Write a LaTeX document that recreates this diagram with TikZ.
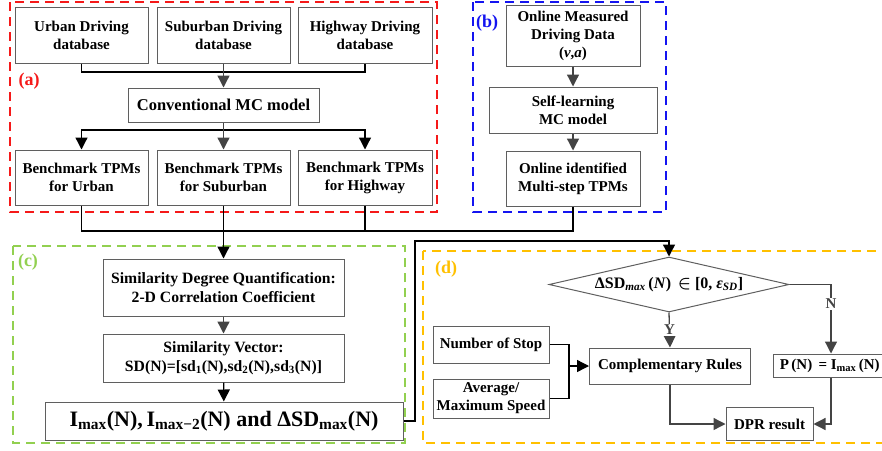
\documentclass[tikz,border=0pt]{standalone}
\usepackage{amsmath}
\usepackage{fontspec}
\setmainfont{Liberation Serif}
\usepackage{tikz}
\usetikzlibrary{arrows.meta,positioning,calc,shapes.geometric}
\definecolor{boxgray}{RGB}{95,95,95}
\definecolor{arrgray}{RGB}{68,68,68}
\definecolor{grpred}{RGB}{245,25,25}
\definecolor{grpblue}{RGB}{20,20,240}
\definecolor{grpgreen}{RGB}{146,208,80}
\definecolor{grporange}{RGB}{255,192,0}
\tikzstyle{block}=[draw=boxgray,line width=1pt,fill=white,align=center,inner sep=2pt,font=\fontsize{15}{18}\selectfont\bfseries]
\tikzstyle{group}=[line width=2pt,dash pattern=on 9pt off 6pt]
\tikzstyle{tag}=[inner sep=0pt,font=\fontsize{18}{20}\selectfont\bfseries]
\tikzstyle{arr}=[-{Triangle[length=12pt,width=12pt]},line width=1.3pt]
\tikzstyle{lbl}=[fill=white,inner sep=1pt,font=\fontsize{15}{18}\selectfont\bfseries]
\newcommand{\pp}[1]{\,(#1)\,}

\begin{document}
\begin{tikzpicture}[x=1pt,y=-1pt]
\useasboundingbox (0,0) rectangle (882,450);
\clip (0,0) rectangle (882,450);

\draw[group,grpred] (10,2) rectangle (437,212);
\draw[group,grpblue] (473,2) rectangle (666,212);
\draw[group,grpgreen] (13,246) rectangle (405,443);
\draw[group,grporange] (423,251) rectangle (900,443);

\node[tag,text=grpred] (taga) at (29,81) {(a)};
\node[tag,text=grpblue] (tagb) at (487,23) {(b)};
\node[tag,text=grpgreen] (tagc) at (28,262) {(c)};
\node[tag,text=grporange] (tagd) at (446,269) {(d)};

\node[block,minimum width=133pt,minimum height=56pt] (urbdb) at (81.5,35) {Urban Driving\\database};
\node[block,minimum width=133pt,minimum height=56pt] (subdb) at (223.5,35) {Suburban Driving\\database};
\node[block,minimum width=134pt,minimum height=56pt] (hwydb) at (365,35) {Highway Driving\\database};
\node[block,minimum width=191pt,minimum height=34pt,font=\fontsize{16.5}{18}\selectfont\bfseries] (convmc) at (223.5,105) {Conventional MC model};
\node[block,minimum width=133pt,minimum height=55pt] (bmurb) at (81.5,177.5) {Benchmark TPMs\\for Urban};
\node[block,minimum width=133pt,minimum height=55pt] (bmsub) at (223.5,177.5) {Benchmark TPMs\\for Suburban};
\node[block,minimum width=134pt,minimum height=55pt] (bmhwy) at (365,177.5) {Benchmark TPMs\\for Highway};

\node[block,minimum width=134pt,minimum height=61pt] (omd) at (573,35.5) {Online Measured\\Driving Data\\(\textit{v},\textit{a})};
\node[block,minimum width=168pt,minimum height=46pt] (slmc) at (573,110) {Self-learning\\MC model};
\node[block,minimum width=134pt,minimum height=55pt] (oid) at (573,178.5) {Online identified\\Multi-step TPMs};

\node[block,minimum width=241pt,minimum height=57pt,font=\fontsize{15.7}{18.5}\selectfont\bfseries] (sdq) at (223.5,287.5) {Similarity Degree Quantification:\\2-D Correlation Coefficient};
\node[block,minimum width=241pt,minimum height=48pt,font=\fontsize{15.7}{18.5}\selectfont\bfseries] (sv) at (223.5,358) {Similarity Vector:\\SD(N)=[sd\textsubscript{1}(N),sd\textsubscript{2}(N),sd\textsubscript{3}(N)]};
\node[block,minimum width=358pt,minimum height=38pt,font=\fontsize{22}{24}\selectfont\bfseries] (imax) at (224,421) {I\textsubscript{max}(N),\,I\textsubscript{max−2}(N) and ΔSD\textsubscript{max}(N)};

\node[diamond,draw=boxgray,line width=1pt,fill=white,aspect=4.36,inner sep=0pt,minimum width=240pt,minimum height=55pt,font=\fontsize{16}{18}\selectfont\bfseries] (cond) at (669,284.5) {ΔSD\textsubscript{\textit{max}}\pp{\textit{N}} $\boldsymbol{\in}$ [0, \textit{ε}\textsubscript{\textit{SD}}]};
\node[block,minimum width=116pt,minimum height=37pt] (nos) at (491,344.5) {Number of Stop};
\node[block,minimum width=116pt,minimum height=39pt,inner sep=1pt] (avg) at (491,398.5) {Average/\\Maximum Speed};
\node[block,minimum width=161pt,minimum height=36pt] (comp) at (670,366) {Complementary Rules};
\node[block,minimum width=116pt,minimum height=23pt,inner sep=1pt] (pn) at (831,365.5) {P\pp{N} = I\textsubscript{max}\pp{N}};
\node[block,minimum width=87pt,minimum height=33pt] (dpr) at (769.5,424) {DPR result};

\coordinate (j1) at (223.5,72);
\coordinate (j2) at (223.5,130);
\coordinate (j3) at (223.5,231);
\coordinate (k1) at (415,241);
\coordinate (m1) at (569,366);

\draw[line width=1.3pt] (urbdb.south) |- (j1) -| (hwydb.south);
\draw[arr,arrgray] (subdb.south) -- (convmc.north);
\draw[arr] (j2) -| (bmurb.north);
\draw[arr] (j2) -| (bmhwy.north);
\draw[line width=1.3pt] (bmurb.south |- j2) -- (bmhwy.south |- j2);
\draw[arr,arrgray] (convmc.south) -- (bmsub.north);

\draw[arr,arrgray] (omd) -- (slmc);
\draw[arr,arrgray] (slmc) -- (oid);

\draw[line width=1.3pt] (bmurb.south) |- (j3) -| (oid.south);
\draw[line width=1.3pt] (bmhwy.south) -- (bmhwy.south |- j3);
\draw[arr] (bmsub.south) -- (sdq.north);

\draw[arr,arrgray] (sdq) -- (sv);
\draw[arr] (sv) -- (imax);
\draw[arr] (imax.east) -| (k1) -| (cond.north);

\draw[arr,arrgray] (cond.south) -- node[lbl]{Y} (comp.north);
\draw[arr,arrgray] (cond.east) -| node[lbl,pos=0.64]{N} (pn.north);
\draw[line width=1.3pt] (nos.east) -| (m1) |- (avg.east);
\draw[arr] (m1) -- (comp.west);
\draw[arr,arrgray] (comp.south) |- (dpr.west);
\draw[arr,arrgray] (pn.south) |- (dpr.east);
\end{tikzpicture}
\end{document}
